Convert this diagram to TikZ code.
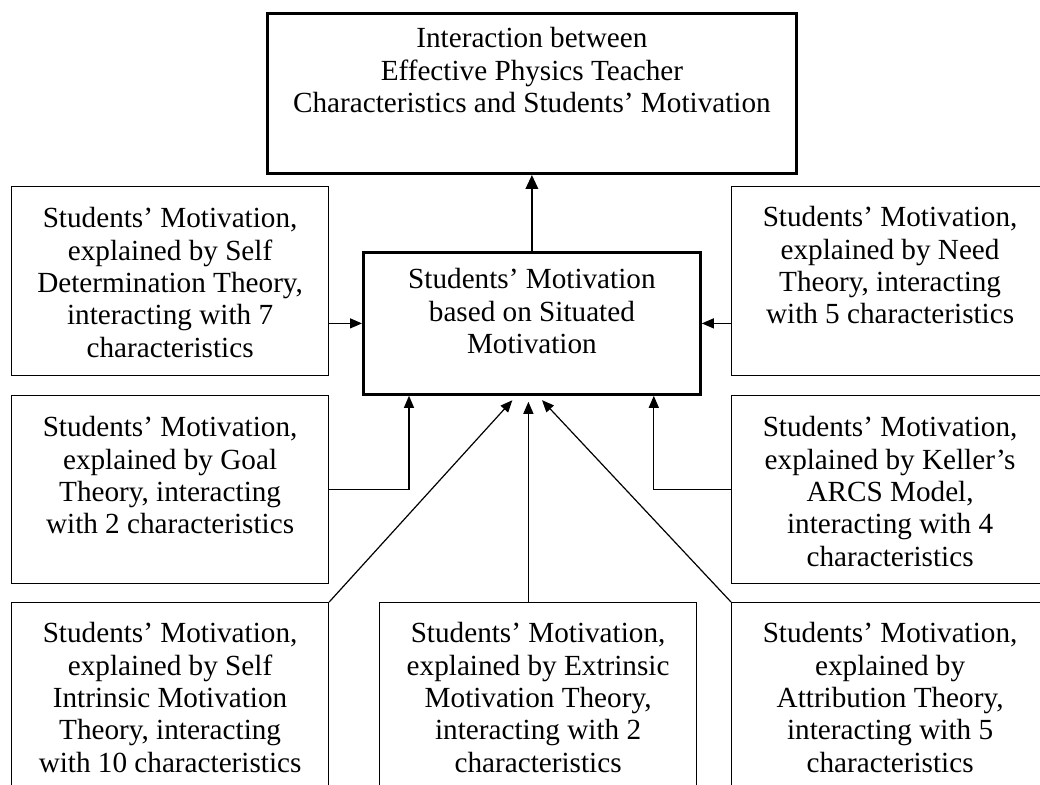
\documentclass[tikz,border=0pt]{standalone}
\usepackage{fontspec}
\setmainfont{Liberation Serif}
\usetikzlibrary{arrows.meta,positioning}
\begin{document}
\begin{tikzpicture}[x=0.5pt,y=-0.5pt,
 box/.style={draw,line width=0.6pt,anchor=north west,inner sep=0pt},
 heavy/.style={box,line width=1.4pt},
 side/.style={box,minimum width=158.5pt},
 txt/.style={align=center,inner sep=0pt,font=\fontsize{14.6}{16.2}\selectfont},
 arr/.style={line width=0.6pt,-{Triangle[length=6pt,width=5pt]}}]
\useasboundingbox (0,0) rectangle (1040,785);
% boxes
\node[heavy,minimum width=264.5pt,minimum height=80pt] (result) at (266,12) {};
\node[heavy,minimum width=168.5pt,minimum height=71pt] (situated) at (362,251) {};
\node[side,minimum height=94.5pt] (sdt) at (11,186) {};
\node[side,minimum height=94pt] (goal) at (11,395) {};
\node[side,minimum height=100pt] (intrinsic) at (11,602) {};
\node[side,minimum height=94.5pt] (need) at (731,186) {};
\node[side,minimum height=94pt] (arcs) at (731,395) {};
\node[side,minimum height=100pt] (attribution) at (731,602) {};
\node[box,minimum width=158.5pt,minimum height=100pt] (extrinsic) at (379,602) {};
% texts
\node[txt,below=7.5pt of result.north] (result-t) {Interaction between\\Effective Physics Teacher\\Characteristics and Students' Motivation};
\node[txt,below=8.5pt of situated.north] (situated-t) {Students' Motivation\\based on Situated\\Motivation};
\node[txt,below=10.5pt of sdt.north] (sdt-t) {Students' Motivation,\\explained by Self\\Determination Theory,\\interacting with 7\\characteristics};
\node[txt,below=10.5pt of goal.north] (goal-t) {Students' Motivation,\\explained by Goal\\Theory, interacting\\with 2 characteristics};
\node[txt,below=10pt of intrinsic.north] (intrinsic-t) {Students' Motivation,\\explained by Self\\Intrinsic Motivation\\Theory, interacting\\with 10 characteristics};
\node[txt,below=10pt of need.north] (need-t) {Students' Motivation,\\explained by Need\\Theory, interacting\\with 5 characteristics};
\node[txt,below=10.5pt of arcs.north] (arcs-t) {Students' Motivation,\\explained by Keller's\\ARCS Model,\\interacting with 4\\characteristics};
\node[txt,below=10pt of extrinsic.north] (extrinsic-t) {Students' Motivation,\\explained by Extrinsic\\Motivation Theory,\\interacting with 2\\characteristics};
\node[txt,below=10pt of attribution.north] (attribution-t) {Students' Motivation,\\explained by\\Attribution Theory,\\interacting with 5\\characteristics};
% connectors
\draw[line width=1.4pt,-{Triangle[length=7pt,width=6pt]}] (situated) -- (result);
\draw[arr] (sdt.east |- situated.west) -- (situated.west);
\draw[arr] (need.west |- situated.east) -- (situated.east);
\draw[arr] (goal.east) -| ([xshift=23.5pt]situated.south west);
\draw[arr] (arcs.west) -| ([xshift=-24pt]situated.south east);
\coordinate (mid) at ([xshift=-1.75pt]situated.south);
\draw[arr,shorten >=3pt] (intrinsic.north east) -- ([xshift=-7.75pt]situated.south);
\draw[arr,shorten >=3pt] (mid |- extrinsic.north) -- (mid);
\draw[arr,shorten >=3pt] (attribution.north west) -- ([xshift=3pt]situated.south);
\end{tikzpicture}
\end{document}
